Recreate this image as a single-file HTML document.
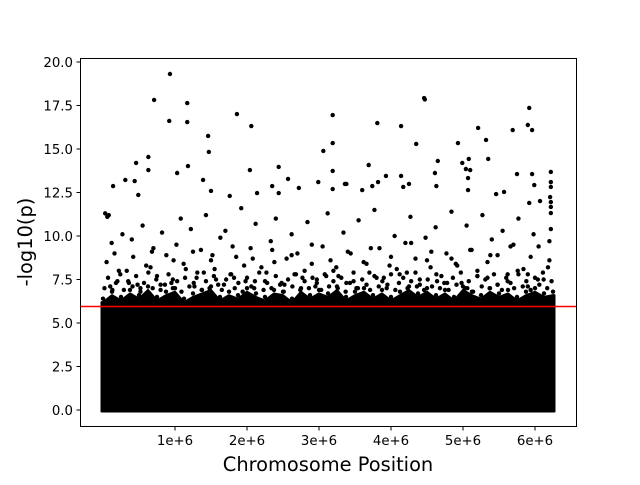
<!DOCTYPE html>
<html><head><meta charset="utf-8"><style>
body{margin:0;background:#fff;}
svg text{font-family:"DejaVu Sans","Liberation Sans",sans-serif;fill:#000;}
</style></head><body>
<svg id="chart" width="640" height="480" viewBox="0 0 640 480" xmlns="http://www.w3.org/2000/svg">
<rect width="640" height="480" fill="#fff"/>
<g id="plot"></g>
<rect x="80.5" y="58.5" width="496" height="368" fill="none" stroke="#000" stroke-width="1"/>
<g id="xt"></g>
<g id="yt"></g>
<text x="328" y="471" font-size="19.4" text-anchor="middle">Chromosome Position</text>
<text transform="translate(32,242) rotate(-90)" font-size="19.4" text-anchor="middle">-log10(p)</text>
</svg>
<script>
// x in millions of base pairs, y in -log10(p)
const xTicks=[1,2,3,4,5,6];
const xTickLabels=["1e+6","2e+6","3e+6","4e+6","5e+6","6e+6"];
const yTicks=[0,2.5,5,7.5,10,12.5,15,17.5,20];
const yTickLabels=["0.0","2.5","5.0","7.5","10.0","12.5","15.0","17.5","20.0"];
const threshold=6;
// upper edge of the saturated dense band, per 0.125e6 bin
const bandBins=[0,0.125,0.25,0.375,0.5,0.625,0.75,0.875,1,1.125,1.25,1.375,1.5,1.625,1.75,1.875,2,2.125,2.25,2.375,2.5,2.625,2.75,2.875,3,3.125,3.25,3.375,3.5,3.625,3.75,3.875,4,4.125,4.25,4.375,4.5,4.625,4.75,4.875,5,5.125,5.25,5.375,5.5,5.625,5.75,5.875,6,6.125,6.25];
const bandTop=[6.2,6.6,6.3,6.7,6.4,6.9,6.3,6.6,6.8,6.2,6.5,6.7,6.9,6.3,6.6,6.4,6.8,6.5,6.3,6.7,6.6,6.2,6.8,6.4,6.7,6.5,6.9,6.3,6.6,6.8,6.4,6.7,6.3,6.6,6.9,6.5,6.8,6.4,6.7,6.3,6.9,6.6,6.4,6.8,6.5,6.7,6.3,6.6,6.8,6.5,6.6];
const peakX=[0.93,0.71,1.17,0.92,1.17,1.86,2.06,1.46,1.47,0.63,0.63,0.46,1.18,1.03,2.04,2.44,3.19,3.19,3.06,3.19,0.31,0.44,0.14,0.49,1.39,2.57,2.99,3.36,2.35,2.72,1.50,2.14,1.76,2.44,3.19,4.46,4.47,3.81,4.14,5.92,5.90,5.96,5.69,5.21,4.35,4.93,5.32,5.35,4.65,3.69,4.99,5.08,5.04,5.10,5.07,4.14,3.93,3.38,3.82,4.61,5.75,5.96,6.22,6.22,6.22,3.74,4.17,4.25,3.60,4.63,5.07,5.99,5.46,5.57,5.92,6.07,6.21,6.22,6.22,6.22,0.03,0.06,0.08];
const peakY=[19.31,17.82,17.64,16.61,16.55,17.01,16.32,15.75,14.83,14.54,13.79,14.20,14.02,13.62,13.79,13.97,16.95,15.34,14.89,13.74,13.22,13.16,12.87,12.36,13.22,13.28,13.10,12.99,12.87,12.76,12.59,12.47,12.30,12.47,12.70,17.93,17.85,16.49,16.32,17.36,16.38,16.09,16.09,16.21,15.29,15.34,15.52,14.43,14.31,14.08,14.20,14.43,13.85,13.79,13.33,13.45,13.45,12.99,13.10,13.62,13.56,13.56,13.68,13.10,12.82,12.87,12.82,12.99,12.64,12.87,12.64,12.93,12.41,12.53,11.90,12.01,12.24,11.95,11.67,11.32,11.3,11.1,11.2];
const midX=[0.05,0.12,0.2,0.27,0.33,0.4,0.48,0.55,0.6,0.68,0.75,0.82,0.88,0.95,1.02,1.08,1.15,1.22,1.3,1.36,1.43,1.5,1.57,1.63,1.7,1.78,1.85,1.92,1.98,2.05,2.12,2.2,2.27,2.33,2.4,2.48,2.55,2.62,2.7,2.77,2.84,2.9,2.97,3.05,3.12,3.2,3.27,3.34,3.4,3.48,3.55,3.62,3.7,3.77,3.84,3.9,3.98,4.05,4.12,4.2,4.27,4.34,4.4,4.48,4.55,4.62,4.7,4.77,4.84,4.9,4.98,5.05,5.12,5.2,5.27,5.34,5.4,5.48,5.55,5.62,5.7,5.77,5.84,5.9,5.98,6.05,6.12,6.2,6.22,
0.1,0.22,0.36,0.52,0.66,0.8,0.97,1.12,1.27,1.4,1.55,1.68,1.82,1.96,2.1,2.25,2.38,2.52,2.66,2.8,2.95,3.1,3.24,3.38,3.52,3.66,3.8,3.95,4.08,4.22,4.36,4.5,4.64,4.78,4.92,5.06,5.2,5.34,5.48,5.62,5.76,5.9,6.04,6.18,
0.16,0.42,0.7,0.98,1.25,1.52,1.8,2.08,2.35,2.62,2.9,3.16,3.44,3.72,4.0,4.28,4.56,4.84,5.1,5.38,5.66,5.94,6.2];
const midY=[8.5,9.6,7.4,10.1,8.0,9.8,7.2,10.6,8.3,9.1,7.7,10.2,8.9,7.3,9.5,11.0,8.1,10.4,7.6,9.2,11.2,8.6,7.5,9.9,10.3,7.8,8.8,11.6,7.4,9.3,10.7,8.2,7.9,9.7,11.0,7.3,8.7,10.1,9.0,7.6,10.8,8.4,7.5,9.4,11.3,8.0,7.7,10.2,9.1,7.4,10.9,8.5,7.9,11.5,9.3,7.6,8.3,10.0,7.8,9.6,11.1,8.7,7.5,9.9,8.2,10.5,7.7,9.0,11.4,8.4,7.3,10.6,9.2,8.0,11.2,7.6,9.8,8.9,10.3,7.4,9.5,11.0,8.1,7.8,10.1,9.4,7.5,8.6,10.4,
7.1,8.0,7.3,7.0,8.2,7.2,7.5,8.4,7.1,7.9,8.1,7.2,7.6,8.3,7.0,7.4,8.5,7.2,7.8,8.0,7.1,7.7,8.2,7.3,7.0,8.4,7.6,7.2,8.1,7.9,7.1,8.6,7.4,7.3,8.3,7.0,7.7,8.5,7.2,7.8,8.0,7.1,7.5,8.2,
9.0,8.8,9.3,8.6,9.1,8.9,9.4,8.7,9.2,8.9,9.5,8.6,9.0,9.3,8.8,9.6,9.1,8.7,9.2,8.9,9.4,8.8,9.7];
// crowd of points just above the band (6.5 - 8)
const lowX=[0.02,0.07,0.13,0.18,0.24,0.29,0.35,0.41,0.46,0.52,0.57,0.63,0.69,0.74,0.8,0.86,0.91,0.97,1.03,1.09,1.14,1.2,1.26,1.31,1.37,1.43,1.48,1.54,1.6,1.65,1.71,1.77,1.83,1.88,1.94,2.0,2.06,2.11,2.17,2.23,2.28,2.34,2.4,2.46,2.51,2.57,2.63,2.68,2.74,2.8,2.86,2.91,2.97,3.03,3.08,3.14,3.2,3.26,3.31,3.37,3.43,3.48,3.54,3.6,3.66,3.71,3.77,3.83,3.88,3.94,4.0,4.06,4.11,4.17,4.23,4.28,4.34,4.4,4.46,4.51,4.57,4.63,4.68,4.74,4.8,4.86,4.91,4.97,5.03,5.08,5.14,5.2,5.26,5.31,5.37,5.43,5.48,5.54,5.6,5.66,5.71,5.77,5.83,5.88,5.94,6.0,6.06,6.11,6.17,6.23];
const lowY=[7.0,7.6,6.9,7.3,7.8,6.9,7.4,7.1,7.7,6.8,7.3,7.9,7.0,7.5,6.9,7.2,7.8,7.0,7.4,6.8,7.6,7.1,7.3,7.9,6.9,7.4,7.0,7.7,7.2,6.9,7.5,7.8,7.0,7.3,6.8,7.6,7.1,7.4,7.9,6.9,7.3,7.0,7.7,7.2,6.8,7.5,7.1,7.8,6.9,7.4,7.0,7.6,7.3,6.9,7.8,7.1,7.4,7.0,7.6,6.8,7.3,7.9,7.0,7.5,7.2,6.9,7.7,7.1,7.4,7.0,7.8,6.9,7.3,7.6,7.0,7.4,7.9,7.2,6.9,7.5,7.1,7.8,7.0,7.3,6.9,7.6,7.2,7.9,7.0,7.4,6.8,7.7,7.1,7.5,7.0,7.8,7.2,6.9,7.6,7.3,7.0,7.8,7.1,7.4,6.9,7.6,7.2,7.9,7.0,7.4];
const X0=103, XS=72, Y0=410, YS=17.4;
const sx=v=>X0+v*XS, sy=v=>Y0-v*YS;
const NS="http://www.w3.org/2000/svg";
const plot=document.getElementById('plot');
function mk(tag,attrs,parent){const e=document.createElementNS(NS,tag);for(const k in attrs)e.setAttribute(k,attrs[k]);parent.appendChild(e);return e;}
// dense band with vertical side edges
const n=bandBins.length;
let d=`M${sx(bandBins[0])-1.5},${sy(0)+1.5} L${sx(bandBins[0])-1.5},${sy(bandTop[0])}`;
bandBins.forEach((b,i)=>{d+=` L${sx(b)},${sy(bandTop[i])}`;});
d+=` L${sx(bandBins[n-1])+1.5},${sy(bandTop[n-1])} L${sx(bandBins[n-1])+1.5},${sy(0)+1.5} Z`;
const band=mk('path',{d:d,fill:'#000','stroke':'#000','stroke-width':2,'stroke-linejoin':'round'},plot);


bandBins.forEach((b,i)=>{
  const c=mk('circle',{cx:sx(b),cy:sy(bandTop[i]+0.2),r:2.2,fill:'#000'},plot);
  
  
});
lowX.forEach((x,i)=>{
  const c=mk('circle',{cx:sx(x),cy:sy(lowY[i]),r:2.2,fill:'#000'},plot);
  
  
});
midX.forEach((x,i)=>{
  const c=mk('circle',{cx:sx(x),cy:sy(midY[i]),r:2.2,fill:'#000'},plot);
  
  
});
peakX.forEach((x,i)=>{
  const c=mk('circle',{cx:sx(x),cy:sy(peakY[i]),r:2.2,fill:'#000'},plot);
  
  
});
const th=mk('line',{x1:80.5,x2:576.5,y1:Math.round(sy(threshold))+0.5,y2:Math.round(sy(threshold))+0.5,stroke:'#ff0000','stroke-width':1.5},plot);


const xt=document.getElementById('xt'), yt=document.getElementById('yt');
xTicks.forEach((v,i)=>{
  const x=sx(v);
  const l=mk('line',{x1:x,x2:x,y1:427,y2:430.5,stroke:'#000'},xt);
  
  
  const t=mk('text',{x:x,y:445,'font-size':13.3,'text-anchor':'middle'},xt);
  t.textContent=xTickLabels[i];
  
  
});
yTicks.forEach((v,i)=>{
  const y=sy(v);
  const l=mk('line',{x1:76.5,x2:80,y1:y,y2:y,stroke:'#000'},yt);
  
  
  const t=mk('text',{x:73,y:y+4.8,'font-size':13.3,'text-anchor':'end'},yt);
  t.textContent=yTickLabels[i];
  
  
});
</script>
</body></html>
